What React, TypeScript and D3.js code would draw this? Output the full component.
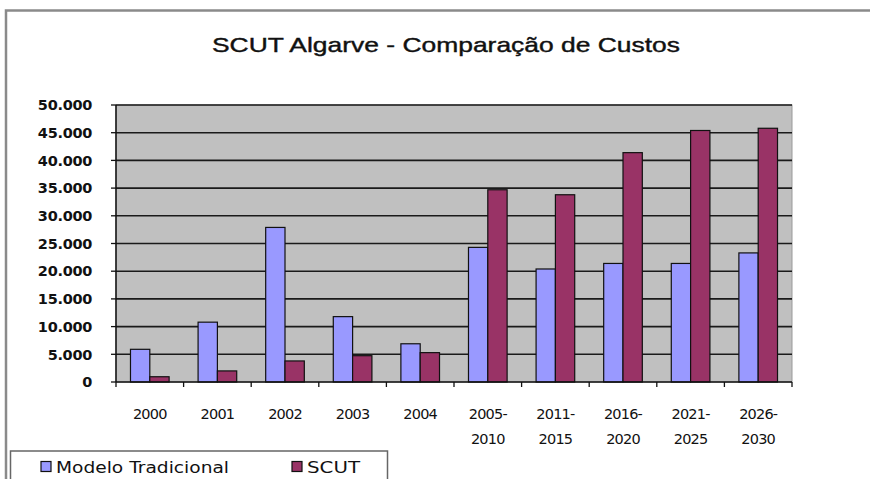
import * as d3 from "d3";
import React from "react";

const categories = ["2000", "2001", "2002", "2003", "2004", "2005-|2010", "2011-|2015", "2016-|2020", "2021-|2025", "2026-|2030"];
const tradicional = [5900, 10800, 27900, 11800, 6900, 24300, 20400, 21400, 21400, 23300];
const scut = [950, 2000, 3800, 4750, 5300, 34700, 33800, 41400, 45400, 45800];
const yTicks = [0, 5000, 10000, 15000, 20000, 25000, 30000, 35000, 40000, 45000, 50000];
const seriesNames = ["Modelo Tradicional", "SCUT"];
const colors = ["#9999FF", "#993366"];

const W = 870;
const H = 479;
const plot = { left: 116, right: 792, top: 105, bottom: 382 };
const font = "'DejaVu Sans', Verdana, sans-serif";
const narrow = "'Liberation Sans Narrow', 'Liberation Sans', Arial, sans-serif";

export default function App() {
    const x = d3.scaleBand().domain(categories).range([plot.left, plot.right]).paddingInner(0).paddingOuter(0);
    const inner = d3.scaleBand().domain(["0", "1"]).range([0, x.bandwidth()]).paddingOuter(0.75).paddingInner(0);
    const y = d3.scaleLinear().domain([0, 50000]).range([plot.bottom, plot.top]);
    const fmt = (v: number) => (v === 0 ? "0" : d3.format(",")(v).replace(/,/g, "."));

    const series = [tradicional, scut];

    return (
        <svg width={W} height={H} style={{ position: "absolute", left: 0, top: 0 }} fontFamily={font}>
            <rect width={W} height={H} fill="#ffffff" />
            {/* chart border */}
            <path d={`M6,${H} V10.5 H${W}`} fill="none" stroke="#8a8a8a" strokeWidth={2.5} />
            <text x={446} y={52} textAnchor="middle" fontSize={21} fontFamily={narrow} fill="#111" stroke="#111" strokeWidth={0.4}
                textLength={468} lengthAdjust="spacingAndGlyphs">
                SCUT Algarve - Comparação de Custos
            </text>

            <rect x={plot.left} y={plot.top} width={plot.right - plot.left} height={plot.bottom - plot.top} fill="#C0C0C0" stroke="#9a9a9a" strokeWidth={1} />
            {yTicks.map((t) => (
                <g key={t}>
                    {t > 0 && <line x1={plot.left} x2={plot.right} y1={y(t)} y2={y(t)} stroke="#1a1a1a" strokeWidth={1.6} />}
                    <line x1={plot.left - 5} x2={plot.left} y1={y(t)} y2={y(t)} stroke="#111" strokeWidth={1.3} />
                    <text x={92} y={y(t)} dy="0.36em" textAnchor="end" fontSize={14.5} fontWeight="bold" fill="#111" letterSpacing={-0.3}>
                        {fmt(t)}
                    </text>
                </g>
            ))}

            {series.map((vals, si) =>
                categories.map((c, i) => (
                    <rect
                        key={`${si}-${c}`}
                        x={(x(c) as number) + (inner(String(si)) as number)}
                        y={y(vals[i])}
                        width={inner.bandwidth()}
                        height={y(0) - y(vals[i])}
                        fill={colors[si]}
                        stroke="#111"
                        strokeWidth={1.2}
                    />
                ))
            )}

            {/* axes */}
            <line x1={plot.left} x2={plot.left} y1={plot.top} y2={plot.bottom} stroke="#111" strokeWidth={1.5} />
            <line x1={plot.left} x2={plot.right} y1={plot.bottom} y2={plot.bottom} stroke="#111" strokeWidth={1.5} />
            {categories.concat(["end"]).map((c, i) => {
                const px = plot.left + i * x.step();
                return <line key={c} x1={px} x2={px} y1={plot.bottom} y2={plot.bottom + 5} stroke="#111" strokeWidth={1.3} />;
            })}
            {categories.map((c) => {
                const cx = (x(c) as number) + x.bandwidth() / 2;
                const parts = c.split("|");
                return (
                    <text key={c} x={cx} y={419} textAnchor="middle" fontSize={14.5} fill="#111" letterSpacing={-0.8}>
                        {parts.map((p, j) => (
                            <tspan key={j} x={cx} dy={j === 0 ? 0 : 25}>
                                {p}
                            </tspan>
                        ))}
                    </text>
                );
            })}

            {/* legend */}
            <rect x={10.5} y={451} width={377} height={40} fill="#fff" stroke="#666" strokeWidth={1.5} />
            {seriesNames.map((n, i) => {
                const lx = i === 0 ? 41 : 292;
                const len = i === 0 ? 173 : 53;
                return (
                    <g key={n}>
                        <rect x={lx} y={461.5} width={10} height={10} fill={colors[i]} stroke="#111" strokeWidth={1.2} />
                        <text x={lx + 15} y={473} fontSize={16.5} fill="#111" textLength={len} lengthAdjust="spacingAndGlyphs">
                            {n}
                        </text>
                    </g>
                );
            })}
        </svg>
    );
}
